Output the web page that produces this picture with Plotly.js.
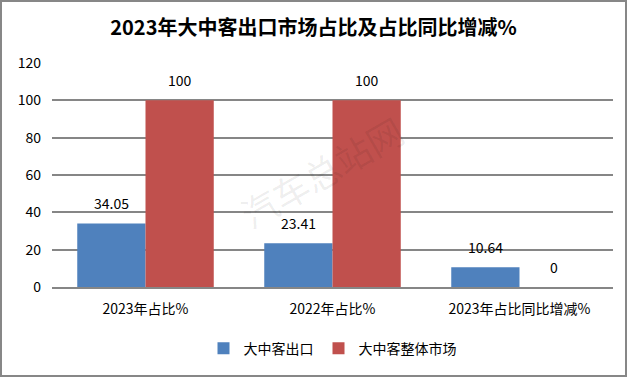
<!DOCTYPE html>
<html><head><meta charset="utf-8">
<script src="https://cdn.plot.ly/plotly-3.0.1.min.js"></script>
<style>html,body{margin:0;padding:0;background:#fff}#c{width:627px;height:377px;box-sizing:border-box;border:2px solid #878787}</style>
</head><body><div id="c"></div>
<script>
const categories = ["2023年占比%", "2022年占比%", "2023年占比同比增减%"];
const exportShare = [34.05, 23.41, 10.64];
const overallMarket = [100, 100, 0];
const seriesNames = ["大中客出口", "大中客整体市场"];
const yTicks = [0, 20, 40, 60, 80, 100, 120];

const F = '"Noto Sans CJK SC", "Noto Sans", sans-serif';
const traces = [
  {type:'bar', name:seriesNames[0], x:categories, y:exportShare, marker:{color:'#4F81BD'}},
  {type:'bar', name:seriesNames[1], x:categories, y:overallMarket, marker:{color:'#C0504D'}}
];
const labelAnn = [];
[[exportShare, -34], [overallMarket, 34]].forEach(([vals, dx]) => {
  vals.forEach((v, i) => labelAnn.push({x:categories[i], y:v, xref:'x', yref:'y', text:String(v),
    showarrow:false, xshift:dx, yshift:20, font:{family:F, size:14, color:'#000'}}));
});
const layout = {
  width:623, height:373,
  margin:{l:50, r:12, t:61, b:87},
  paper_bgcolor:'#fff', plot_bgcolor:'#fff',
  font:{family:F, size:14, color:'#000'},
  title:{text:'<b>2023年大中客出口市场占比及占比同比增减%</b>', x:0.5, xanchor:'center', y:0.93, yanchor:'middle', font:{family:F, size:20, color:'#000'}},
  barmode:'group', bargap:0.27, bargroupgap:0,
  xaxis:{type:'category', showline:true, linecolor:'#868686', linewidth:2, ticks:'', ticklabelstandoff:8, tickfont:{family:F, size:14}, showgrid:false},
  yaxis:{range:[0,120], tickvals:yTicks, ticktext:yTicks.map(String), showgrid:true, gridcolor:'#868686', gridwidth:2, zeroline:false, showline:false, ticks:'', ticklen:0, ticklabelstandoff:10, tickfont:{family:F, size:14}},
  showlegend:true,
  legend:{orientation:'h', x:0.5, xanchor:'center', y:-0.27, yanchor:'middle', font:{family:F, size:14}, traceorder:'normal', itemwidth:20},
  annotations:labelAnn.concat([{text:'汽车总站网', xref:'paper', yref:'paper', x:0.48, y:0.52, showarrow:false, textangle:-30, font:{family:F, size:36, color:'rgba(0,0,0,0.07)'}}])
};
Plotly.newPlot('c', traces, layout, {displayModeBar:false, staticPlot:true});
</script></body></html>
